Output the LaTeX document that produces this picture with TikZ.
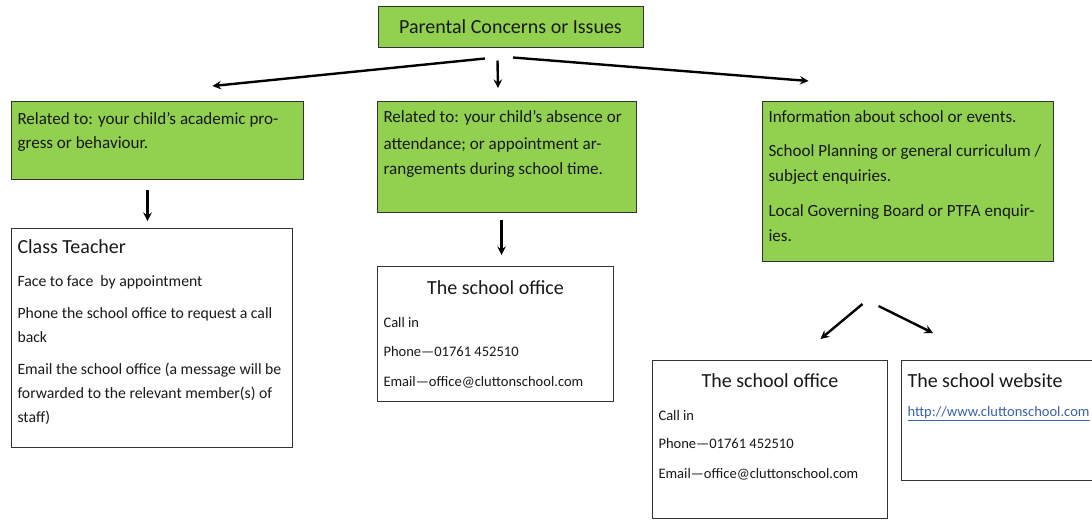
\documentclass[tikz,border=0pt]{standalone}
\usepackage{fontspec}
\setmainfont{Carlito}
\usetikzlibrary{calc}
\definecolor{leaf}{HTML}{92D050}
\definecolor{linkblue}{RGB}{58,98,168}
\newcommand{\panel}[4]{\parbox[t][#2][t]{#1}{\raggedright\rule{0pt}{#3}#4}}
\newcommand{\headfont}{\fontsize{15}{18}\selectfont}
\newcommand{\issuefont}{\fontsize{12.8}{18}\selectfont}
\newcommand{\teacherfont}{\fontsize{11.8}{18}\selectfont}
\newcommand{\officefont}{\fontsize{10.9}{18}\selectfont}

\begin{document}
\begin{tikzpicture}[x=0.75pt,y=-0.75pt,>=stealth,
  every node/.style={text=black!90},
  box/.style={draw=black!80,line width=0.75pt,anchor=north west,inner xsep=4.5pt,inner ysep=0pt},
  issue/.style={box,fill=leaf,font=\issuefont},
  contact/.style={box,fill=white,font=\officefont},
  arr/.style={->,line width=1.8pt}]
\fill[white] (0,0) rectangle (1092,519);
\useasboundingbox (0,0) rectangle (1092,519);
\node[issue,anchor=center,minimum width=198.75pt,minimum height=30.75pt,font=\headfont] (top) at (510.5,26.5) {Parental Concerns or Issues};
\node[issue] (academic) at (11,101) {\panel{210pt}{58.5pt}{17.6pt}{Related to: your child’s academic pro-\\gress or behaviour.}};
\node[issue] (attend) at (377,101) {\panel{185.25pt}{83.25pt}{16.1pt}{Related to: your child’s absence or\\[2pt]attendance; or appointment ar-\\[0.5pt]rangements during school time.}};
\node[issue] (info) at (762,101) {\panel{209.25pt}{120pt}{16.1pt}{Information about school or events.\\[7.5pt]School Planning or general curriculum /\\[0.75pt]subject enquiries.\\[8pt]Local Governing Board or PTFA enquir-\\[0.75pt]ies.}};
\node[contact,font=\teacherfont] (teacher) at (11,228) {\panel{201.75pt}{164.25pt}{18.75pt}{{\headfont Class Teacher}\\[7pt]Face to face\ \ by appointment\\[6pt]Phone the school office to request a call\\back\\[5.5pt]Email the school office (a message will be\\forwarded to the relevant member(s) of\\staff)}};
\node[contact] (office) at (377,266) {\panel{168pt}{101.25pt}{21pt}{\makebox[\linewidth]{\headfont The school office}\\[6.5pt]Call in\\[4pt]Phone—01761 452510\\[4.5pt]Email—office@cluttonschool.com}};
\node[contact] (office2) at (652,360) {\panel{167.25pt}{118.5pt}{20.25pt}{\makebox[\linewidth]{\headfont The school office}\\[6.5pt]Call in\\[3pt]Phone—01761 452510\\[4.5pt]Email—office@cluttonschool.com}};
\node[contact] (website) at (901,360) {\panel{141pt}{90pt}{20.25pt}{{\headfont The school website}\\[3.5pt]{\color{linkblue}\underline{http://www.cluttonschool.com}}}};

\path[arr] ($(top.south)+(-25.5,11)$) edge ($(academic.north)+(55,-15)$)
 ($(top.south)+(-13,13)$) edge ($(attend.north)+(-9,-13)$)
 ($(top.south)+(2.5,10)$) edge ($(info.north)+(-99.5,-20)$)
 ($(academic.south)+(-10,10)$) edge ($(teacher.north)+(-4.5,-7)$)
 ($(attend.south)+(-5.5,7)$) edge ($(office.north)+(6,-11)$)
 ($(info.south)+(-45.5,42)$) edge ($(office2.north)+(50.5,-21)$)
 ($(info.south)+(-29.5,44)$) edge ($(website.north west)+(32,-27)$);
\end{tikzpicture}
\end{document}
